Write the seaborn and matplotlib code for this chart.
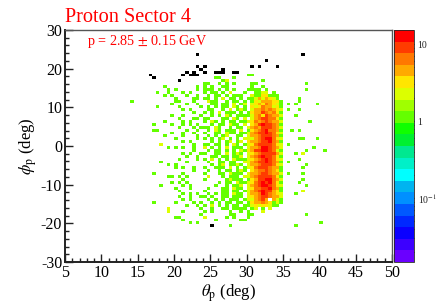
#
# Proton sector 4 theta/phi occupancy, log colour scale
#
import numpy as np
import pandas as pd
import matplotlib
matplotlib.use("Agg")
import matplotlib.pyplot as plt
from matplotlib.colors import LogNorm, ListedColormap
from matplotlib.ticker import MultipleLocator
import seaborn as sns

title = "Proton Sector 4"
note = "p = 2.85 $\\pm$ 0.15 GeV"

# counts, one string per phi bin from the top down,
# first column is theta = 14 deg, '.' empty, a = 10, b = 12
first_theta = 14.0
first_phi = 18.75
cell_rows = [
    ".......... .......... .......... ..11...... .......... ......",
    ".......... .......... ...11...1. .......... .......... ......",
    ".......... .......... .....12... ......1... .......... ......",
    ".......... .......... 11..1.1.1. ...11..... ........1. ......",
    ".........1 ........1. 1.1..11... ...1..1... .......... ......",
    ".......... 1.1.....1. 111.1.1.1. ..1111.1.. ........1. ......",
    ".......1.. 1...1.1... 1.11.1.2.. .1..1122.1 .......... ......",
    ".........1 .1...1..1. .1.11.1.11 1..2113311 1......... ......",
    ".......... ..1....11. 11.1.2.11. 1.11242432 1.....1... ......",
    "1......... ..11...1.. .211..1.11 .1.1324543 31....1... ......",
    ".......... .1...1..1. ..11.11.2. 12.2353643 21.1.1.... .1....",
    ".......1.. ...1.....1 .1.1.11.21 .1.3236452 31........ ......",
    ".......... ....1.1... .11..1.2.1 21.2447564 32.1..1... ......",
    ".......... .......1.. 1.1.2.111. 1.13548756 31........ ......",
    ".......... .1..1....1 ..1.1.21.1 1112563875 42...1.... ......",
    ".......... ...1...11. 11...11.21 .2.2568976 31........ ......",
    ".........1 ....1.1... 1.21.1.11. 1123746a65 42.......1 ......",
    "......1... .1..1.1.1. ..1.11.211 .2.348ba87 51........ ......",
    ".......... ...1...1.1 11.21..1.1 1.2575a986 42........ ......",
    "......11.. .....1..1. .1.21.111. 2.13569b76 51..1.1... ......",
    ".......... .1..1..1.. 1..11.211. 112478ab97 32........ ......",
    ".........1 ....1...1. .1.1.12..1 1.24578a96 41........ ......",
    ".......... ..1.....1. 1.1.12.1.1 .222569bb6 32....11.. .1....",
    ".......... ....1.1... ..1.1.12.1 2.3457a8c7 51........ ......",
    "........2. .......1.. 11.11.1.21 .123789a96 32.1...... ......",
    ".......... 1.1.1..1.. 2.1.1.2.11 1.2456bba6 42........ 1.....",
    ".......... .......1.. .1.11.1.1. 213488bc97 21......1. ...1..",
    ".......... ....1.1..1 1..11.2.12 1.2357a9a8 42...1.2.. ......",
    ".......... .....1..1. ..11.11.11 2.2469ba96 31........ ......",
    ".......... ...1....1. 1.2.1.1.21 112357aca6 32....1... ......",
    "........1. .....1.... .1..11.11. .2246a9b97 41.1...... ......",
    ".......... 1.1....... ..1.12.112 1.2556a9a6 32......1. ......",
    ".......... ..1.1..1.. 1..111.2.1 .123788975 41.....1.. ......",
    ".......... .......1.. .1..1.11.1 21.3567864 31........ ......",
    "......1... ....1..... 1...11.211 1.2457a875 42.1...1.. ......",
    ".......... 11.1.1.... .2...1.111 .224699a86 31........ ......",
    ".......... ....1..... 1.....1211 1.13589bc7 42.....1.. ......",
    ".......... .1.1.1.... ....1.11.2 112379bac6 31....1... ......",
    "........1. ....1.1... ...1..1.11 2.2468cba7 32......1. ......",
    ".......... ..1...1... .1...11.21 1.23679ab6 41........ ......",
    ".......... ...1...... 1....11.11 .12568ca85 31.....2.. ......",
    ".......... ....1.1.1. .1.1.11.21 1.2457ba75 32...1.... ......",
    ".......... ...1..1..1 1.1..11.11 1.23569865 42........ ......",
    ".......... ....1.1... .1.1.1.111 .1225785.4 21........ ......",
    "......1... ..1....1.1 ..1.1.11.1 1.13456431 21........ ......",
    ".......... .....1..1. 1.2.1.1.11 .112323321 1......... ......",
    ".......... 2........1 ..1..11.11 11.12.1.2. .......... ......",
    ".......... 2...1..... 1.1....1.. 1.1...2... .......... ......",
    ".......... .........1 .......11. ..11...... ........1. ......",
    ".......... ..11...... 2.....1.1. ..1....... .......... ......",
    ".......... ....1..... ...1...... 11........ .......... ......",
    ".......... ......1.1. .......... .......... .......... ..1...",
    ".......... .......... .......1.. .......... .....1.... ......",
]

# separate black bins above the sector edge
black_theta = [23.3, 23.3, 23.8, 24.4, 24.3, 16.7, 17.2, 20.7, 21.2, 21.8, 22.2, 22.7, 22.7, 23.3,
               25.8, 26.3, 26.7, 26.7, 28.1, 28.5, 28.7, 30.7, 31.7, 32.8, 34.3, 37.7, 25.2]
black_phi = [23.3, 20.7, 20.2, 20.7, 18.9, 18.4, 17.3, 16.8, 18.4, 18.9, 18.4, 19.1, 18.4, 18.4,
             19.1, 18.9, 20.2, 19.1, 18.9, 18.9, 19.4, 20.7, 20.7, 22.2, 20.7, 23.3, -21.0]

palette = ["#6a00ff", "#3c00ff", "#0a00ff", "#0028ff", "#0058ff", "#0090ff", "#00b4f0", "#00ffff",
           "#00f0c8", "#00e890", "#00f030", "#10ff00", "#64ff00", "#a0ff00", "#dcff00",
           "#ffe600", "#ffaa00", "#ff7800", "#ff3c00", "#ff0000"]

digits = {".": 0, "a": 10, "b": 12, "c": 14}
thetas, phis, counts = [], [], []
for i, row in enumerate(cell_rows):
    row = row.replace(" ", "")
    for j, c in enumerate(row):
        n = digits[c] if c in digits else int(c)
        if n > 0:
            thetas.append(first_theta + 0.25 + 0.5 * j)
            phis.append(first_phi - 0.375 - 0.75 * i)
            counts.append(n)

cells = pd.DataFrame({"theta": thetas, "phi": phis, "count": counts})
black = pd.DataFrame({"theta": black_theta, "phi": black_phi})

sns.set_style("ticks")
plt.rcParams["font.family"] = ["Liberation Serif", "DejaVu Serif"]
plt.rcParams["mathtext.fontset"] = "stix"
plt.rcParams["axes.unicode_minus"] = False

theta_bins = np.arange(5, 50.25, 0.5)
phi_bins = np.arange(-30, 30.5, 0.75)

fig = plt.figure(figsize=(4.36, 3.08), dpi=100)
ax = fig.add_axes([65 / 436, 46 / 308, 327 / 436, 232 / 308])
cax = fig.add_axes([394 / 436, 46 / 308, 19.5 / 436, 232 / 308])

sns.histplot(data=cells, x="theta", y="phi", weights="count", bins=[theta_bins, phi_bins], ax=ax,
             cmap=ListedColormap(palette))
# histplot always hands vmin to pcolormesh, so the log norm goes on afterwards
mesh = ax.collections[0]
mesh.set_norm(LogNorm(vmin=0.0148, vmax=15.2))
sns.histplot(data=black, x="theta", y="phi", bins=[theta_bins, phi_bins], ax=ax,
             cmap=ListedColormap(["black"]))

cbar = fig.colorbar(mesh, cax=cax)
cbar.outline.set_linewidth(0.6)

ax.set_xlim(5, 50)
ax.set_ylim(-30, 30)
ax.set_xlabel("$\\theta_{\\mathrm{p}}$ (deg)", fontsize=12, labelpad=1, color="black")
ax.set_ylabel("$\\phi_{\\mathrm{p}}$ (deg)", fontsize=12, labelpad=1.5, color="black")
ax.xaxis.set_major_locator(MultipleLocator(5))
ax.xaxis.set_minor_locator(MultipleLocator(1))
ax.yaxis.set_major_locator(MultipleLocator(10))
ax.yaxis.set_minor_locator(MultipleLocator(2))
ax.tick_params(which="major", direction="in", length=6, width=1, labelsize=11.5, pad=2,
               color="#222222", labelcolor="black")
ax.tick_params(which="minor", direction="in", length=3, width=1, color="#222222")
for s in ax.spines.values():
    s.set_visible(True)
    s.set_linewidth(1.0)
    s.set_color("#555555")
ax.spines["left"].set_linewidth(1.4)
ax.spines["left"].set_color("#222222")
ax.spines["bottom"].set_linewidth(1.4)
ax.spines["bottom"].set_color("#222222")

cax.set_yticks([0.1, 1, 10])
cax.set_yticklabels(["10$^{-1}$", "1", "10"])
cax.tick_params(which="major", direction="in", length=6, width=0.8, labelsize=7, pad=3,
                color="#222222", labelcolor="#222222")
cax.tick_params(which="minor", direction="in", length=3, width=0.8, color="#222222")

fig.text(65 / 436, 1 - 17 / 308, title, color="red", fontsize=14.6, va="center", ha="left")
fig.text(87 / 436, 1 - 41.5 / 308, note, color="red", fontsize=10.2, va="center", ha="left")

fig.savefig("out.png", dpi=100)
